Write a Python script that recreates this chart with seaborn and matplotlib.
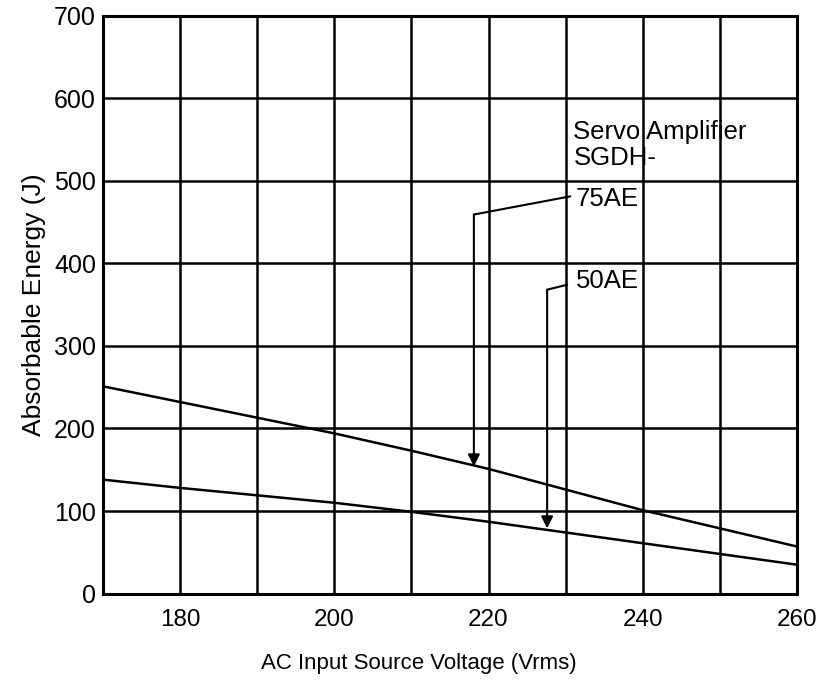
import matplotlib
matplotlib.use("Agg")
import matplotlib.pyplot as plt
import seaborn as sns
import pandas as pd

# Absorbable regenerative energy vs. AC input voltage for two servo amplifiers
voltage = [170, 180, 190, 200, 210, 220, 230, 240, 250, 260]
energy_75ae = [251, 232, 213, 194, 173, 151, 126, 101, 79, 57]
energy_50ae = [138, 128, 119, 110, 99, 87, 74, 61, 48, 35]

x_ticks = [170, 180, 190, 200, 210, 220, 230, 240, 250, 260]
x_tick_labels = ["", "180", "", "200", "", "220", "", "240", "", "260"]
y_ticks = [0, 100, 200, 300, 400, 500, 600, 700]

df = pd.DataFrame({
    "voltage": voltage * 2,
    "energy": energy_75ae + energy_50ae,
    "model": ["75AE"] * len(voltage) + ["50AE"] * len(voltage),
})

sns.set_style("white")
plt.rcParams["font.family"] = ["Liberation Sans", "DejaVu Sans"]
plt.rcParams["text.color"] = "black"
plt.rcParams["axes.labelcolor"] = "black"
plt.rcParams["xtick.color"] = "black"
plt.rcParams["ytick.color"] = "black"

fig = plt.figure(figsize=(8.17, 6.86), dpi=100)
ax = fig.add_axes([0.126, 0.1347, 0.8495, 0.8427])

sns.lineplot(data=df, x="voltage", y="energy", units="model", estimator=None,
             color="black", linewidth=1.8, ax=ax, legend=False)

ax.set_xlim(170, 260)
ax.set_ylim(0, 700)
ax.set_xticks(x_ticks)
ax.set_xticklabels(x_tick_labels)
ax.set_yticks(y_ticks)
ax.grid(True, color="black", linewidth=1.8)
ax.set_axisbelow(True)
ax.tick_params(axis="x", length=2, width=1.5, direction="out", pad=9,
               labelsize=17.5, colors="black")
ax.tick_params(axis="y", length=0, pad=5, labelsize=18, colors="black")
for side in ax.spines.values():
    side.set_color("black")
    side.set_linewidth(2.2)

ax.set_xlabel("AC Input Source Voltage (Vrms)", fontsize=16, color="black")
ax.xaxis.set_label_coords(0.455, -0.103)
ax.set_ylabel("Absorbable Energy (J)", fontsize=19, color="black", labelpad=6)

# Model labels with leader lines and arrows
ax.text(231.0, 559, "Servo Amplifier", fontsize=18.5, va="center", ha="left")
ax.text(231.0, 528, "SGDH-", fontsize=18.5, va="center", ha="left")
ax.text(231.3, 478, "75AE", fontsize=18.5, va="center", ha="left")
ax.text(231.3, 379, "50AE", fontsize=18.5, va="center", ha="left")

arrow = dict(arrowstyle="-|>,head_length=0.7,head_width=0.35",
             color="black", lw=1.5, shrinkA=0, shrinkB=0, mutation_scale=10)

ax.plot([230.6, 218.1], [481, 459], color="black", lw=1.5)
ax.annotate("", xy=(218.1, 154), xytext=(218.1, 459), arrowprops=arrow)

ax.plot([230.2, 227.6], [374, 368], color="black", lw=1.5)
ax.annotate("", xy=(227.6, 79), xytext=(227.6, 368), arrowprops=arrow)

fig.savefig("out.png", dpi=100)
